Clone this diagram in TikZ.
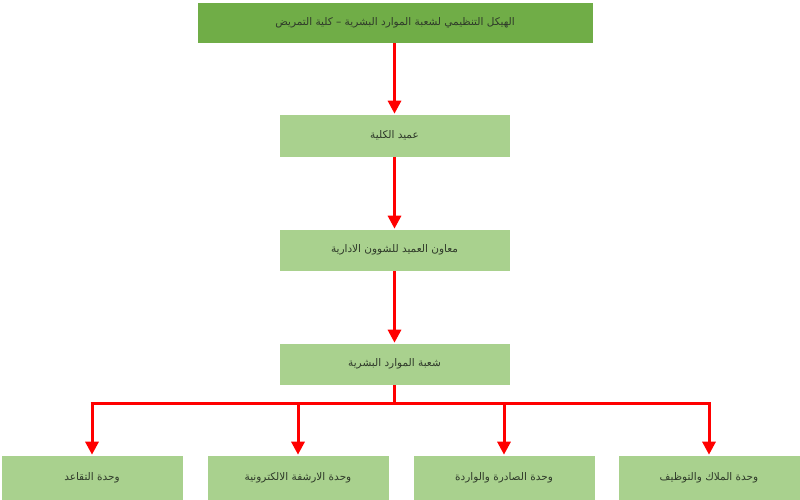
\documentclass[tikz,border=0pt]{standalone}
\usepackage{fontspec}
\newfontfamily\arabicfont[Script=Arabic]{DejaVu Sans}
\TeXXeTstate=1
\usetikzlibrary{arrows.meta}
\definecolor{dg}{HTML}{70AD47}
\definecolor{lg}{HTML}{A9D18E}
\definecolor{tx}{HTML}{2F3A2A}
\begin{document}
\begin{tikzpicture}[x=1pt,y=-1pt,
 box/.style={fill=lg,draw=white,line width=0.6pt,inner sep=0pt,font=\arabicfont\fontsize{10.5}{12}\selectfont,text=tx},
 conn/.style={draw=red,line width=3pt,-{Triangle[width=13pt,length=13pt]}},
 plain/.style={draw=red,line width=3pt}]
\useasboundingbox (0,0) rectangle (800,500);
\node[box,fill=dg,minimum width=396pt,minimum height=41pt] (t) at (395,22.5) {\beginR الهيكل التنظيمي لشعبة الموارد البشرية – كلية التمريض\endR};
\node[box,minimum width=231pt,minimum height=43pt] (a) at (394.5,135.5) {\beginR عميد الكلية\endR};
\node[box,minimum width=231pt,minimum height=42pt] (b) at (394.5,250) {\beginR معاون العميد للشوون الادارية\endR};
\node[box,minimum width=231pt,minimum height=42pt] (c) at (394.5,364) {\beginR شعبة الموارد البشرية\endR};
\node[box,minimum width=182pt,minimum height=46pt] (d1) at (92,478) {\beginR وحدة التقاعد\endR};
\node[box,minimum width=182pt,minimum height=46pt] (d2) at (298,478) {\beginR وحدة الارشفة الالكترونية\endR};
\node[box,minimum width=182pt,minimum height=46pt] (d3) at (504,478) {\beginR وحدة الصادرة والواردة\endR};
\node[box,minimum width=182pt,minimum height=46pt] (d4) at (709,478) {\beginR وحدة الملاك والتوظيف\endR};
\draw[conn] (t.south -| a.north) -- (a.north);
\draw[conn] (a) -- (b);
\draw[conn] (b) -- (c);
\coordinate (j) at (394.5,403);
\coordinate (jl) at (92,403);
\coordinate (jr) at (709,403);
\draw[plain] (c.south) -- (j);
\draw[plain] ([xshift=-1.5pt]jl) -- ([xshift=1.5pt]jr);
\draw[conn] (jl) -- (d1.north);
\draw[conn] (298,403) -- (d2.north);
\draw[conn] (504,403) -- (d3.north);
\draw[conn] (jr) -- (d4.north);
\end{tikzpicture}
\end{document}
